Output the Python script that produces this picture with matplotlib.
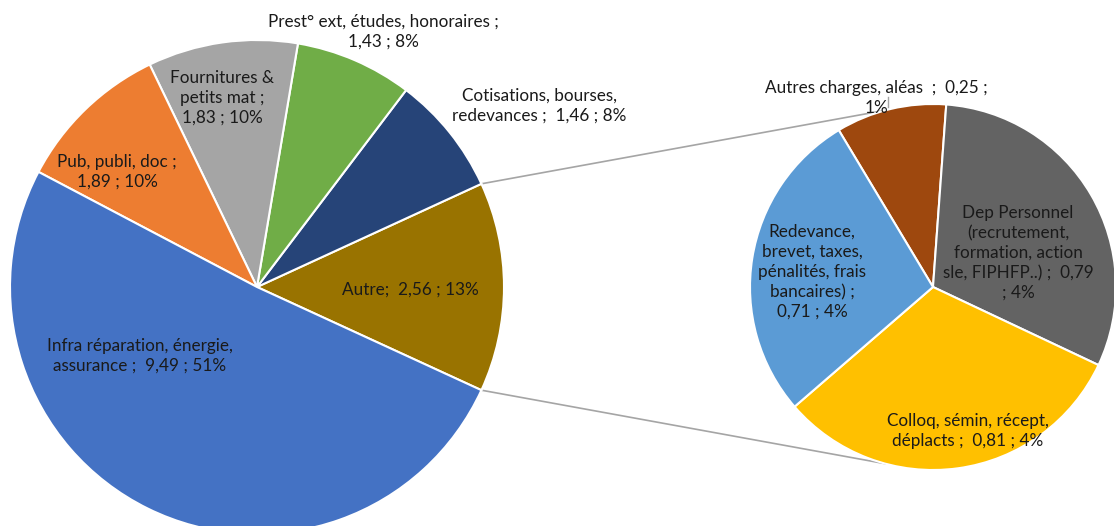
import numpy as np
import matplotlib.pyplot as plt

# main pie (order: counter-clockwise starting from "Autre")
main_names = ["Autre", "Cotisations", "Prest° ext", "Fournitures", "Pub", "Infra"]
main_values = [2.56, 1.46, 1.43, 1.83, 1.89, 9.49]
main_colors = ["#997300", "#264478", "#70AD47", "#A5A5A5", "#ED7D31", "#4472C4"]
main_labels = [
    "Autre;  2,56 ; 13%",
    "Cotisations, bourses,\nredevances ;  1,46 ; 8%",
    "Prest° ext, études, honoraires ;\n1,43 ; 8%",
    "Fournitures &\npetits mat ;\n1,83 ; 10%",
    "Pub, publi, doc ;\n1,89 ; 10%",
    "Infra réparation, énergie,\nassurance ;  9,49 ; 51%",
]

# second pie: breakdown of "Autre" (clockwise)
sub_values = [0.25, 0.79, 0.81, 0.71]
sub_colors = ["#9E480E", "#636363", "#FFC000", "#5B9BD5"]
sub_labels = [
    "Autres charges, aléas  ;  0,25 ;\n1%",
    "Dep Personnel\n(recrutement,\nformation, action\nsle, FIPHFP..) ;  0,79\n; 4%",
    "Colloq, sémin, récept,\ndéplacts ;  0,81 ; 4%",
    "Redevance,\nbrevet, taxes,\npénalités, frais\nbancaires) ;\n0,71 ; 4%",
]

# layout (pixel space, y measured from the bottom)
W, H = 1114, 526
main_c, main_r = (257, 239), 247
sub_c, sub_r = (933, 239), 183
main_lab_pos = [(410, 236), (539, 420), (383, 494), (222, 428), (117, 354), (140, 170)]
sub_lab_pos = [(876, 428), (1018, 273), (968, 95), (812, 254)]

plt.rcParams["font.family"] = ["Lato", "DejaVu Sans"]

fig = plt.figure(figsize=(W / 100, H / 100), dpi=100)
ax = fig.add_axes([0, 0, 1, 1])

total = sum(main_values)
half = main_values[0] / total * 180
wedge_kw = dict(edgecolor="white", linewidth=1.5)

ax.pie(main_values, colors=main_colors, center=main_c, radius=main_r,
       startangle=-half, counterclock=True, wedgeprops=wedge_kw, frame=True)
ax.pie(sub_values, colors=sub_colors, center=sub_c, radius=sub_r,
       startangle=121, counterclock=False, wedgeprops=wedge_kw, frame=True)
ax.set_xlim(0, W)
ax.set_ylim(0, H)
ax.axis("off")

# connector lines between the "Autre" wedge and the second pie
for sgn in (1, -1):
    a0 = np.deg2rad(sgn * half)
    a1 = np.deg2rad(sgn * 105)
    p0 = (main_c[0] + main_r * np.cos(a0), main_c[1] + main_r * np.sin(a0))
    p1 = (sub_c[0] + sub_r * np.cos(a1), sub_c[1] + sub_r * np.sin(a1))
    ax.plot([p0[0], p1[0]], [p0[1], p1[1]], color="#A5A5A5", lw=1.2, zorder=0)

for txt, (x, y) in zip(main_labels + sub_labels, main_lab_pos + sub_lab_pos):
    ax.text(x, y, txt, ha="center", va="center", fontsize=12.3,
            color="#1a1a1a", linespacing=1.3)

# small leader tick for the "Autres charges" label
ax.plot([888, 888], [419, 429], color="#A5A5A5", lw=1)

fig.savefig("out.png", dpi=100)
